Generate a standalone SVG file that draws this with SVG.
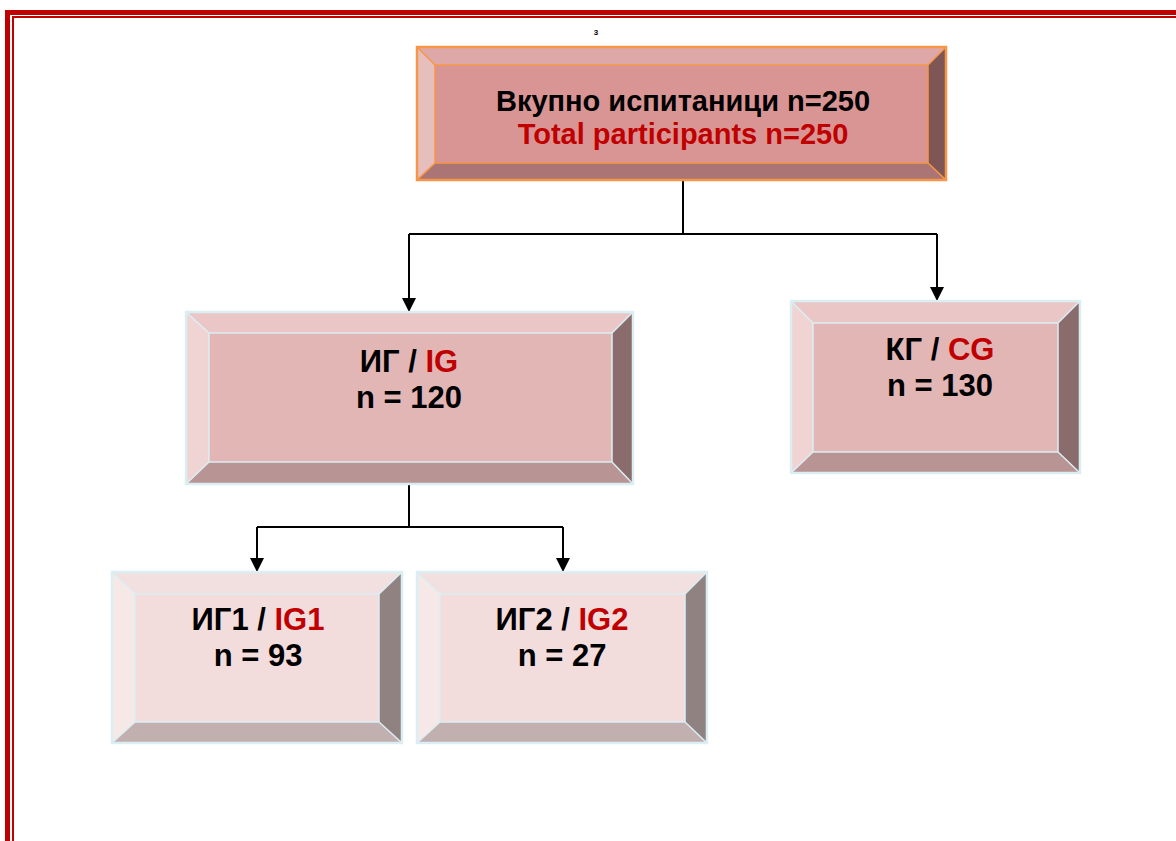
<svg xmlns="http://www.w3.org/2000/svg" width="1176" height="841" viewBox="0 0 1176 841">
<defs>
<style>
.t{font-family:"Liberation Sans",Arial,sans-serif;font-weight:bold;text-anchor:middle;fill:#000}
.r{fill:#C00000}
.ln{fill:none;stroke:#000;stroke-width:2}
.ob{stroke:#F79646;stroke-width:2.5;fill:none}
.oi{stroke:#F79646;stroke-width:1.5;fill:none}
.bb{stroke:#DAEEF3;stroke-width:2.5;fill:none}
.bi{stroke:#DAEEF3;stroke-width:1.5;fill:none}
</style>
<marker id="ah" markerUnits="userSpaceOnUse" markerWidth="15" markerHeight="14" refX="14" refY="7" orient="auto">
<path d="M0,0 L14,7 L0,14 Z" fill="#000"/>
</marker>
</defs>
<rect width="1176" height="841" fill="#fff"/>
<g id="border" fill="#C00000">
<rect x="5" y="10" width="1171" height="5"/>
<rect x="5" y="10" width="5" height="831"/>
<rect x="12" y="16" width="1164" height="2"/>
<rect x="12" y="16" width="2" height="825"/>
</g>
<text class="t" x="596" y="35" font-size="8">3</text>
<g id="connectors">
<polyline class="ln" points="683,180 683,234"/>
<polyline class="ln" points="409,234 937,234"/>
<polyline class="ln" points="409,234 409,312" marker-end="url(#ah)"/>
<polyline class="ln" points="937,234 937,301" marker-end="url(#ah)"/>
<polyline class="ln" points="409,484 409,527"/>
<polyline class="ln" points="257,527 563,527"/>
<polyline class="ln" points="257,527 257,572" marker-end="url(#ah)"/>
<polyline class="ln" points="563,527 563,572" marker-end="url(#ah)"/>
</g>
<g id="total">
<rect x="435" y="65" width="493" height="98" fill="#D99594"/>
<polygon points="417,47 946,47 928,65 435,65" fill="#DFA8A8"/>
<polygon points="417,47 435,65 435,163 417,180" fill="#E6BEBE"/>
<polygon points="946,47 946,180 928,163 928,65" fill="#7E5656"/>
<polygon points="417,180 435,163 928,163 946,180" fill="#AB7575"/>
<path class="oi" d="M417,47 L435,65 M946,47 L928,65 M417,180 L435,163 M946,180 L928,163"/>
<rect class="oi" x="435" y="65" width="493" height="98"/>
<rect class="ob" x="417" y="47" width="529" height="133"/>
<text class="t" x="683" y="111" font-size="29">Вкупно испитаници n=250</text>
<text class="t r" x="683" y="144" font-size="29">Total participants n=250</text>
</g>
<g id="ig">
<rect x="209" y="333" width="403" height="129" fill="#E3B6B6"/>
<polygon points="186,312 633,312 612,333 209,333" fill="#EBC6C6"/>
<polygon points="186,312 209,333 209,462 186,484" fill="#F0D4D4"/>
<polygon points="633,312 633,484 612,462 612,333" fill="#8A6C6C"/>
<polygon points="186,484 209,462 612,462 633,484" fill="#B89494"/>
<path class="bi" d="M186,312 L209,333 M633,312 L612,333 M186,484 L209,462 M633,484 L612,462"/>
<rect class="bi" x="209" y="333" width="403" height="129"/>
<rect class="bb" x="186" y="312" width="447" height="172"/>
<text class="t" x="409" y="372" font-size="31">ИГ / <tspan class="r">IG</tspan></text>
<text class="t" x="409" y="408" font-size="31">n = 120</text>
</g>
<g id="cg">
<rect x="813" y="323" width="245" height="129" fill="#E3B6B6"/>
<polygon points="791,301 1080,301 1058,323 813,323" fill="#EBC6C6"/>
<polygon points="791,301 813,323 813,452 791,473" fill="#F0D4D4"/>
<polygon points="1080,301 1080,473 1058,452 1058,323" fill="#8A6C6C"/>
<polygon points="791,473 813,452 1058,452 1080,473" fill="#B89494"/>
<path class="bi" d="M791,301 L813,323 M1080,301 L1058,323 M791,473 L813,452 M1080,473 L1058,452"/>
<rect class="bi" x="813" y="323" width="245" height="129"/>
<rect class="bb" x="791" y="301" width="289" height="172"/>
<text class="t" x="940" y="360" font-size="31">КГ / <tspan class="r">CG</tspan></text>
<text class="t" x="940" y="396" font-size="31">n = 130</text>
</g>
<g id="ig1">
<rect x="135" y="594" width="244" height="128" fill="#F2DCDC"/>
<polygon points="112,572 402,572 379,594 135,594" fill="#F2E0E0"/>
<polygon points="112,572 135,594 135,722 112,743" fill="#F7E8E8"/>
<polygon points="402,572 402,743 379,722 379,594" fill="#918282"/>
<polygon points="112,743 135,722 379,722 402,743" fill="#C2AFAF"/>
<path class="bi" d="M112,572 L135,594 M402,572 L379,594 M112,743 L135,722 M402,743 L379,722"/>
<rect class="bi" x="135" y="594" width="244" height="128"/>
<rect class="bb" x="112" y="572" width="290" height="171"/>
<text class="t" x="258" y="630" font-size="31">ИГ1 / <tspan class="r">IG1</tspan></text>
<text class="t" x="258" y="666" font-size="31">n = 93</text>
</g>
<g id="ig2">
<rect x="440" y="594" width="245" height="128" fill="#F2DCDC"/>
<polygon points="417,572 707,572 685,594 440,594" fill="#F2E0E0"/>
<polygon points="417,572 440,594 440,722 417,743" fill="#F7E8E8"/>
<polygon points="707,572 707,743 685,722 685,594" fill="#918282"/>
<polygon points="417,743 440,722 685,722 707,743" fill="#C2AFAF"/>
<path class="bi" d="M417,572 L440,594 M707,572 L685,594 M417,743 L440,722 M707,743 L685,722"/>
<rect class="bi" x="440" y="594" width="245" height="128"/>
<rect class="bb" x="417" y="572" width="290" height="171"/>
<text class="t" x="562" y="630" font-size="31">ИГ2 / <tspan class="r">IG2</tspan></text>
<text class="t" x="562" y="666" font-size="31">n = 27</text>
</g>
</svg>
